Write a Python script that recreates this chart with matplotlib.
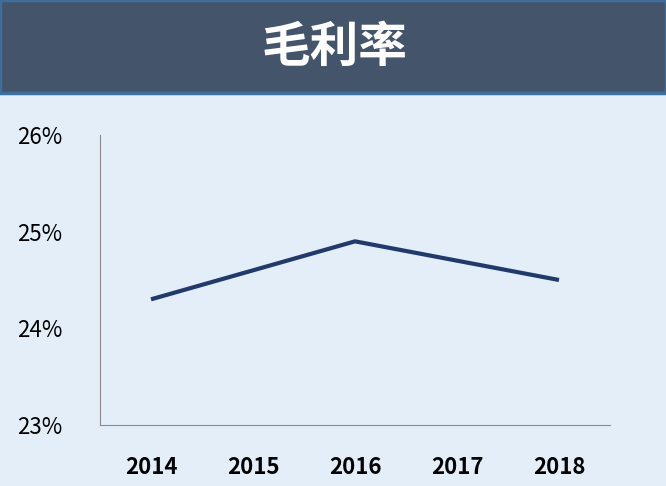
import matplotlib.pyplot as plt
from matplotlib.patches import Rectangle

plt.rcParams['font.family'] = ['Noto Sans CJK TC', 'DejaVu Sans']

# data
years = ['2014', '2015', '2016', '2017', '2018']
margin = [24.3, 24.6, 24.9, 24.7, 24.5]
yticks = [23, 24, 25, 26]

W, H = 666, 486
fig = plt.figure(figsize=(W / 100, H / 100), dpi=100)
fig.patch.set_facecolor('#E3EEF8')

# title banner
fig.patches.append(Rectangle((0, 1 - 93 / H), 1, 93 / H, transform=fig.transFigure,
                             facecolor='#44546A', edgecolor='#3C6E9E', linewidth=2.5))
fig.text(334 / W, 1 - 47 / H, '毛利率', color='white', fontsize=35,
         fontweight='bold', ha='center', va='center')

# plot area
ax = fig.add_axes([100 / W, 1 - 425 / H, 510 / W, 290 / H])
ax.set_facecolor('#E3EEF8')
ax.plot(range(len(years)), margin, color='#213A6B', linewidth=3, solid_capstyle='butt')
ax.set_xlim(-0.5, len(years) - 0.5)
ax.set_ylim(23, 26)
ax.set_xticks(range(len(years)))
ax.set_xticklabels(years, fontsize=16, fontweight='bold')
ax.set_yticks(yticks)
ax.set_yticklabels([f'{v}%' for v in yticks], fontsize=16, fontweight='medium')
ax.tick_params(length=0, pad=22, axis='x')
ax.tick_params(length=0, pad=27, axis='y')
for s in ['top', 'right']:
    ax.spines[s].set_visible(False)
for s in ['left', 'bottom']:
    ax.spines[s].set_color('#8C8C8C')
    ax.spines[s].set_linewidth(0.8)

fig.savefig('out.png', dpi=100, facecolor=fig.get_facecolor())
